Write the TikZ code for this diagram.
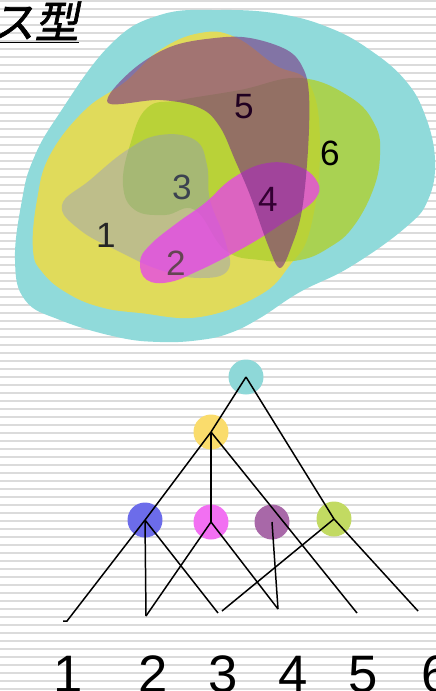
\documentclass[tikz,border=0pt]{standalone}
\usepackage{fontspec}
\setmainfont{Liberation Sans}
\newfontfamily\jpfont[FakeSlant=0.2,FakeBold=1.5]{Noto Sans CJK JP}
\usepackage{tikz}
\usetikzlibrary{
  positioning,
  calc
}
\definecolor{skycyan}{HTML}{90DADA}
\definecolor{sunyellow}{HTML}{F2DC40}
\definecolor{limegreen}{HTML}{B0D030}
\definecolor{slateblue}{HTML}{8890D8}
\definecolor{hotmagenta}{HTML}{E840F0}
\definecolor{plumpurple}{HTML}{7A3082}
\definecolor{treecyan}{HTML}{8ED8D8}
\definecolor{treeyellow}{HTML}{FADC6C}
\definecolor{treeblue}{HTML}{6C6CEA}
\definecolor{treemagenta}{HTML}{F270F2}
\definecolor{treepurple}{HTML}{A868A8}
\definecolor{treegreen}{HTML}{C2DA62}
\definecolor{labelgray}{HTML}{3C4250}
\tikzset{
  bgline/.style={draw=black!14, line width=1.1pt},
  region/.style={fill=#1, draw=none},
  clnode/.style={circle, fill=#1, minimum size=0.7cm, inner sep=0pt},
  branch/.style={draw=black, line width=0.85pt},
  setlabel/.style={font=\fontsize{20}{20}\selectfont, inner sep=0pt},
  leaflabel/.style={font=\fontsize{30}{30}\selectfont, anchor=base, inner sep=0pt},
}

\begin{document}
\begin{tikzpicture}[x=0.02cm, y=-0.02cm]

\useasboundingbox (0,0) rectangle (436,691);
\fill[white] (0,0) rectangle (436,691);

% Slide background
\foreach \y in {1,9,...,689}
  \draw[bgline] (0,\y) -- (436,\y);

% Title
\node[anchor=base east, inner sep=0pt, font=\jpfont\fontsize{25}{25}\selectfont] (ttl) at (79,38) {\underline{ス型}};

% Nested regions
\fill[region=skycyan] plot[smooth cycle, tension=0.7] coordinates {
  (57,117) (110,45) (160,15) (220,10) (280,14) (330,28) (370,50) (405,80)
  (425,115) (435,160) (428,200) (405,228) (350,267) (300,292) (260,318)
  (230,333) (200,340) (160,342) (117,337) (60,320) (25,300) (15,260)
  (22,200) (33,160)};
\fill[region=sunyellow, fill opacity=0.82] plot[smooth cycle, tension=0.7] coordinates {
  (125,82) (160,50) (200,33) (235,37) (275,65) (310,85) (320,150) (310,230)
  (290,265) (260,295) (200,317) (140,313) (100,307) (67,293) (43,273)
  (33,250) (37,200) (50,155) (85,110)};
\fill[region=limegreen, fill opacity=0.8] plot[smooth cycle, tension=0.7] coordinates {
  (147,108) (180,100) (240,90) (300,78) (350,97) (375,125) (380,155)
  (373,190) (353,227) (330,247) (300,260) (260,260) (225,250) (195,210)
  (165,215) (135,210) (123,185) (130,145)};
\fill[region=slateblue, fill opacity=0.38] plot[smooth cycle, tension=0.7] coordinates {
  (62,205) (90,180) (127,150) (160,135) (195,140) (207,165) (210,200)
  (225,240) (228,270) (200,278) (160,270) (120,252) (80,230)};
\fill[region=hotmagenta, fill opacity=0.75] plot[smooth cycle, tension=0.7] coordinates {
  (140,262) (150,245) (177,223) (205,203) (233,178) (267,163) (300,167)
  (318,183) (316,198) (300,212) (283,223) (257,240) (230,255) (200,270)
  (170,282) (147,280)};
\fill[region=plumpurple, fill opacity=0.6] plot[smooth cycle, tension=0.6] coordinates {
  (108,103) (130,72) (170,47) (215,38) (250,38) (287,50) (303,68) (309,95)
  (308,150) (302,210) (292,245) (280,268) (268,245) (250,195) (235,160)
  (220,127) (200,108) (160,100)};

% Region labels
\node[setlabel, text=black!85] (s1) at (106,235) {1};
\node[setlabel, text=black!70!magenta] (s2) at (176,263) {2};
\node[setlabel, text=labelgray] (s3) at (182,187) {3};
\node[setlabel, text=black!60!violet] (s4) at (268,199) {4};
\node[setlabel, text=black!75!violet] (s5) at (244,107) {5};
\node[setlabel] (s6) at (330,153) {6};

% Tree nodes
\node[clnode=treecyan] (root) at (246,377) {};
\node[clnode=treeyellow] (yel) at (211,432) {};
\node[clnode=treeblue] (blu) at (145,520) {};
\node[clnode=treemagenta] (mag) at (211,522) {};
\node[clnode=treepurple] (pur) at (272,522) {};
\node[clnode=treegreen] (grn) at (334,519) {};

% Leaf ends
\coordinate (l1) at (67,621);
\coordinate (l1t) at (63,621);
\coordinate (l2) at (146,616);
\coordinate (l3) at (218,613);
\coordinate (l3g) at (222,611);
\coordinate (l4) at (278,609);
\coordinate (l5) at (357,613);
\coordinate (l6) at (418,611);

% Branches
\draw[branch] (root.center) -- (yel.center);
\draw[branch] (root.center) -- (grn.center);
\draw[branch] (yel.center) -- (blu.center);
\draw[branch] (yel.center) -- (mag.center);
\draw[branch] (yel.center) -- (l5);
\draw[branch] (blu.center) -- (l1) -- (l1t);
\draw[branch] (blu.center) -- (l2);
\draw[branch] (blu.center) -- (l3);
\draw[branch] (mag.center) -- (l2);
\draw[branch] (mag.center) -- (l4);
\draw[branch] (pur.center) -- (l4);
\draw[branch] (grn.center) -- (l3g);
\draw[branch] (grn.center) -- (l6);

% Leaf labels
\node[leaflabel] (n1) at (68,692) {1};
\node[leaflabel] (n2) at (153,692) {2};
\node[leaflabel] (n3) at (223,692) {3};
\node[leaflabel] (n4) at (293,692) {4};
\node[leaflabel] (n5) at (363,692) {5};
\node[leaflabel] (n6) at (436,692) {6};

\end{tikzpicture}
\end{document}
